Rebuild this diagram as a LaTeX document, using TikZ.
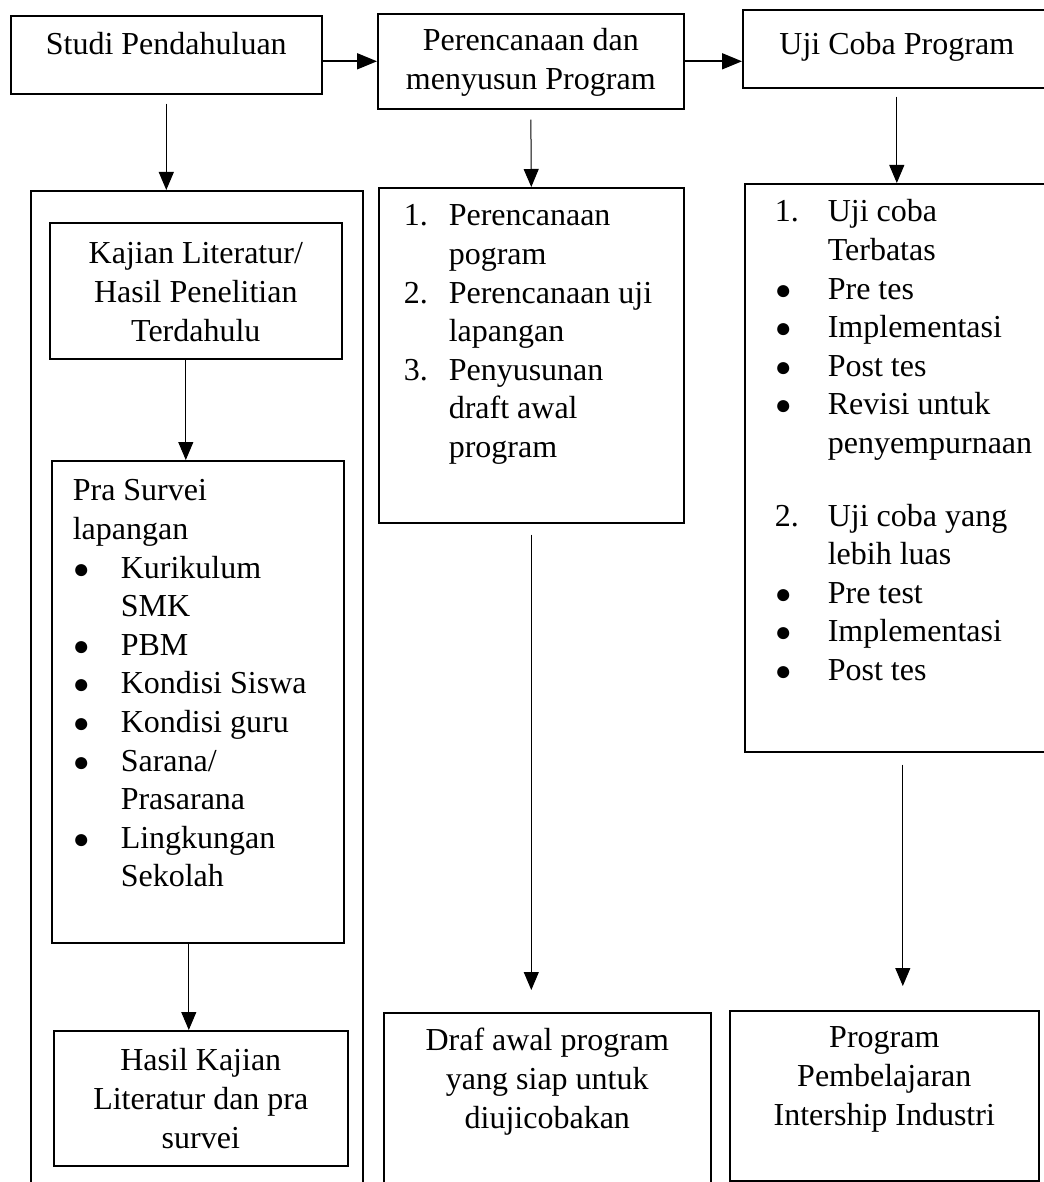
\documentclass[tikz,border=0pt]{standalone}
\usepackage{fontspec}
\setmainfont{Liberation Serif}
\usetikzlibrary{arrows.meta, positioning, calc}
\newlength\pxu
\setlength\pxu{0.5pt}
% box contents: width, height, top gap (px), text
\newcommand{\cbody}[4]{\parbox[c][#2\pxu][t]{#1\pxu}{\centering\vspace*{#3\pxu}\strut#4}}
\newcommand{\lbody}[5]{\parbox[c][#2\pxu][t]{#1\pxu}{\raggedright\leftskip=#4\pxu\vspace*{#3\pxu}\strut#5}}
\newcommand{\itm}[2]{\makebox[#1\pxu][l]{#2}}
\newcommand{\bul}{{\fontsize{14}{14}\selectfont ●}}
\tikzset{
  kotak/.style={draw, line width=0.8pt, rectangle, anchor=north west, inner sep=0pt},
  panah/.style={line width=0.5pt, -{Triangle[width=7.5pt, length=9pt]}},
  panahh/.style={line width=0.9pt, -{Triangle[width=8pt, length=10pt]}}
}

\begin{document}
\begin{tikzpicture}[x=0.5pt, y=-0.5pt, font=\fontsize{16}{19.3}\selectfont]
\useasboundingbox (0,0) rectangle (1043,1182);

% top row
\node[kotak] (studi) at (10,15) {\cbody{311}{78}{12}{Studi Pendahuluan}};
\node[kotak] (pere) at (377,13) {\cbody{306}{95}{10}{Perencanaan dan\\menyusun Program}};
\node[kotak] (uji) at (742,9) {\cbody{308}{78}{18}{Uji Coba Program}};

% left column
\node[kotak, minimum width=166pt, minimum height=505pt] (studibox) at (30,190) {};
\node[kotak] (kajian) at (49,222) {\cbody{292}{136}{14}{Kajian Literatur/\\Hasil Penelitian\\Terdahulu}};
\node[kotak] (pra) at (51,460) {\lbody{292}{482}{13}{21}{Pra Survei\\
  lapangan\\
  \itm{48}{\bul}Kurikulum\\
  \itm{48}{}SMK\\
  \itm{48}{\bul}PBM\\
  \itm{48}{\bul}Kondisi Siswa\\
  \itm{48}{\bul}Kondisi guru\\
  \itm{48}{\bul}Sarana/\\
  \itm{48}{}Prasarana\\
  \itm{48}{\bul}Lingkungan\\
  \itm{48}{}Sekolah}};
\node[kotak] (hasil) at (53,1030) {\cbody{294}{135}{13}{Hasil Kajian\\Literatur dan pra\\survei}};

% middle column
\node[kotak] (mlist) at (378,187) {\lbody{305}{335}{11}{25}{\itm{45}{1.}Perencanaan\\
  \itm{45}{}pogram\\
  \itm{45}{2.}Perencanaan uji\\
  \itm{45}{}lapangan\\
  \itm{45}{3.}Penyusunan\\
  \itm{45}{}draft awal\\
  \itm{45}{}program}};
\node[kotak] (draf) at (383,1012) {\cbody{327}{200}{11}{Draf awal program\\yang siap untuk\\diujicobakan}};

% right column
\node[kotak] (rlist) at (744,183) {\lbody{316}{568}{11}{30}{\itm{53}{1.}Uji coba\\
  \itm{53}{}Terbatas\\
  \itm{53}{\bul}Pre tes\\
  \itm{53}{\bul}Implementasi\\
  \itm{53}{\bul}Post tes\\
  \itm{53}{\bul}Revisi untuk\\
  \itm{53}{}penyempurnaan\\[17pt]
  \itm{53}{2.}Uji coba yang\\
  \itm{53}{}lebih luas\\
  \itm{53}{\bul}Pre test\\
  \itm{53}{\bul}Implementasi\\
  \itm{53}{\bul}Post tes}};
\node[kotak] (prog) at (729,1010) {\cbody{309}{170}{10}{Program\\Pembelajaran\\Intership Industri}};

% arrows
\draw[panahh] (studi.east |- pere.west) -- (pere.west);
\draw[panahh] (pere.east) -- (pere.east -| uji.west);
\draw[panah, shorten <=4.5pt] (studi.south) -- (studi.south |- studibox.north);
\draw[panah, shorten <=5pt] (pere.south) -- (mlist.north);
\draw[panah, shorten <=4pt] (uji.south) -- (uji.south |- rlist.north);
\draw[panah] ([xshift=-5pt]kajian.south) -- ([xshift=-5pt]kajian.south |- pra.north);
\draw[panah] ([xshift=-4.5pt]pra.south) -- ([xshift=-4.5pt]pra.south |- hasil.north);
\draw[panah, shorten <=5.5pt, shorten >=11pt] (mlist.south) -- (mlist.south |- draf.north);
\draw[panah, shorten <=6pt, shorten >=12pt] (rlist.south) -- (rlist.south |- prog.north);

\end{tikzpicture}
\end{document}
